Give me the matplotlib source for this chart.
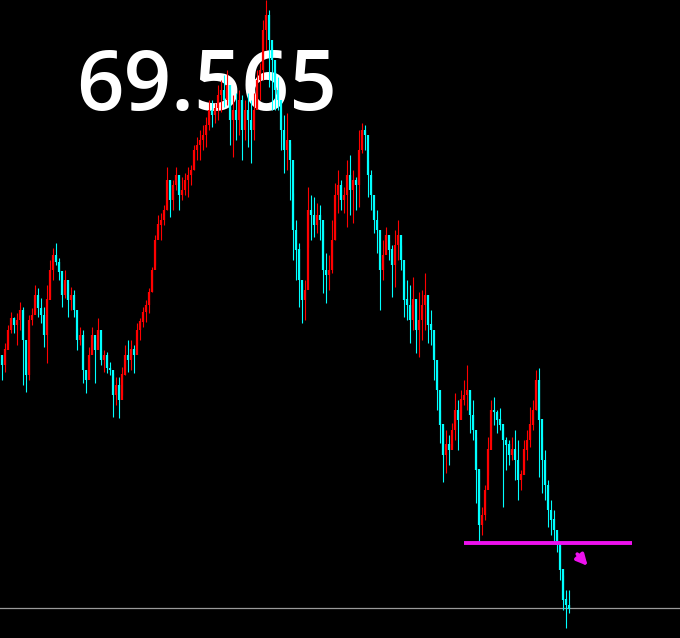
import numpy as np
import matplotlib
matplotlib.use('Agg')
import matplotlib.pyplot as plt


# bar highs / lows / closes (one entry per ~3 px column)
highs = [
    72.10, 72.22, 72.40, 72.53, 72.48, 72.52, 72.63, 72.58, 72.03, 72.50,
    72.57, 72.80, 72.77, 72.67, 72.58, 72.80, 73.05, 73.17, 73.22, 73.07,
    72.82, 72.95, 72.82, 72.78, 72.75, 72.37, 72.38, 72.35, 71.95, 72.18,
    72.38, 72.25, 72.47, 72.15, 72.15, 72.13, 72.03, 71.92, 71.88, 71.88,
    71.98, 72.20, 72.25, 72.25, 72.20, 72.42, 72.47, 72.58, 72.65, 72.77,
    72.98, 73.30, 73.50, 73.52, 73.60, 73.98, 73.85, 73.85, 73.98, 73.85,
    73.88, 73.92, 73.98, 74.00, 74.20, 74.28, 74.35, 74.40, 74.48, 74.65,
    74.65, 74.62, 74.80, 74.85, 74.90, 74.95, 74.75, 74.70, 74.72, 74.75,
    74.70, 74.65, 74.72, 74.65, 74.72, 74.95, 75.02, 75.45, 75.65, 75.55,
    75.18, 74.95, 74.88, 74.52, 74.50, 74.52, 74.22, 73.72, 73.45, 73.22,
    72.82, 72.85, 73.78, 73.70, 73.68, 73.62, 73.60, 73.35, 73.12, 73.10,
    73.45, 73.82, 73.95, 73.85, 73.78, 74.05, 74.10, 73.95, 73.88, 74.35,
    74.42, 74.40, 74.05, 73.95, 73.55, 73.55, 73.02, 73.25, 73.38, 73.25,
    73.20, 73.35, 73.45, 73.20, 72.85, 72.85, 72.80, 72.88, 72.65, 72.73,
    72.75, 72.92, 72.58, 72.55, 72.22, 71.95, 71.55, 71.38, 71.35, 71.30,
    71.42, 71.72, 71.65, 71.75, 71.85, 72.00, 71.75, 71.65, 71.28, 70.95,
    70.58, 70.80, 71.28, 71.65, 71.68, 71.55, 71.57, 71.38, 71.28, 71.25,
    71.28, 71.35, 71.25, 70.95, 71.25, 71.35, 71.58, 71.65, 71.95, 71.97,
    71.28, 71.15, 70.85, 70.65, 70.55, 70.32, 70.20, 69.90, 69.75, 69.75,
]
lows = [
    71.85, 71.93, 72.20, 72.32, 72.32, 72.20, 72.35, 71.80, 71.73, 71.85,
    72.40, 72.53, 72.48, 72.42, 72.18, 72.02, 72.68, 72.85, 73.00, 72.85,
    72.58, 72.67, 72.48, 72.55, 72.48, 72.15, 72.20, 71.82, 71.72, 71.92,
    72.15, 71.82, 72.23, 72.00, 71.93, 71.92, 71.90, 71.48, 71.60, 71.47,
    71.70, 71.90, 71.93, 71.95, 71.92, 72.20, 72.25, 72.38, 72.43, 72.52,
    72.73, 73.00, 73.30, 73.25, 73.40, 73.55, 73.48, 73.55, 73.75, 73.55,
    73.65, 73.70, 73.68, 73.80, 73.95, 74.05, 74.05, 74.15, 74.18, 74.35,
    74.38, 74.42, 74.45, 74.53, 74.58, 74.60, 74.20, 74.08, 74.25, 74.30,
    74.05, 74.25, 74.18, 74.02, 74.25, 74.58, 74.65, 74.85, 75.15, 74.78,
    74.55, 74.55, 74.55, 74.15, 73.92, 73.95, 73.65, 73.05, 72.85, 72.58,
    72.42, 72.45, 73.18, 73.25, 73.28, 73.32, 73.25, 72.72, 72.62, 72.75,
    72.92, 73.25, 73.52, 73.55, 73.52, 73.38, 73.50, 73.42, 73.55, 73.58,
    74.12, 74.15, 73.68, 73.55, 73.32, 73.12, 72.55, 72.85, 73.15, 73.05,
    72.68, 72.78, 73.05, 72.95, 72.48, 72.45, 72.22, 72.35, 72.12, 72.08,
    72.25, 72.35, 72.22, 72.20, 71.85, 71.55, 71.22, 70.83, 70.92, 71.00,
    71.18, 71.25, 71.15, 71.52, 71.60, 71.55, 71.32, 71.25, 70.62, 70.23,
    70.30, 70.45, 70.90, 71.25, 71.40, 71.32, 71.35, 70.58, 70.95, 71.00,
    71.05, 70.85, 70.65, 70.75, 70.95, 71.05, 71.18, 71.35, 71.55, 70.88,
    70.72, 70.65, 70.38, 70.30, 70.22, 70.13, 69.85, 69.55, 69.37, 69.52,
]
closes = [
    72.00, 72.15, 72.35, 72.47, 72.40, 72.45, 72.55, 72.25, 71.90, 72.45,
    72.50, 72.70, 72.57, 72.50, 72.30, 72.65, 72.95, 73.10, 73.03, 72.93,
    72.70, 72.85, 72.65, 72.70, 72.55, 72.25, 72.30, 71.95, 71.85, 72.10,
    72.30, 72.15, 72.35, 72.05, 72.10, 71.97, 71.95, 71.70, 71.80, 71.65,
    71.90, 72.10, 72.05, 72.15, 72.10, 72.35, 72.43, 72.53, 72.60, 72.73,
    72.95, 73.25, 73.40, 73.45, 73.55, 73.85, 73.65, 73.80, 73.90, 73.70,
    73.75, 73.85, 73.90, 73.95, 74.15, 74.20, 74.25, 74.30, 74.40, 74.55,
    74.50, 74.57, 74.70, 74.75, 74.65, 74.80, 74.45, 74.55, 74.45, 74.65,
    74.35, 74.55, 74.45, 74.35, 74.55, 74.85, 74.95, 75.35, 75.50, 75.25,
    75.05, 74.75, 74.65, 74.35, 74.15, 74.25, 74.05, 73.35, 73.15, 72.85,
    72.65, 72.75, 73.55, 73.50, 73.40, 73.50, 73.45, 72.95, 72.90, 72.95,
    73.25, 73.70, 73.80, 73.65, 73.70, 73.90, 73.75, 73.85, 73.80, 74.15,
    74.35, 74.30, 73.90, 73.70, 73.45, 73.35, 72.95, 73.10, 73.30, 73.15,
    73.00, 73.20, 73.30, 73.05, 72.65, 72.60, 72.45, 72.65, 72.35, 72.45,
    72.60, 72.70, 72.40, 72.35, 72.05, 71.75, 71.40, 71.10, 71.20, 71.15,
    71.35, 71.55, 71.45, 71.65, 71.70, 71.75, 71.50, 71.35, 70.95, 70.40,
    70.50, 70.75, 71.15, 71.55, 71.53, 71.45, 71.40, 71.25, 71.20, 71.10,
    71.15, 71.05, 70.85, 70.90, 71.15, 71.25, 71.40, 71.55, 71.85, 71.45,
    71.05, 70.80, 70.55, 70.45, 70.35, 70.20, 69.95, 69.65, 69.60, 69.56,
]
first_open = 72.10

last_price = 69.565
price_label = '69.565'
level_price = 70.22
level_from, level_to = 154, 210

bg = '#000000'
up_col = '#ff0000'
down_col = '#00ffff'
magenta = '#ee11ee'

n = len(closes)
idx = np.arange(n)
opens = np.array([first_open] + closes[:-1])
closes_a = np.array(closes)
cols = np.where(closes_a >= opens, up_col, down_col)

fig = plt.figure(figsize=(6.8, 6.38), dpi=100, facecolor=bg)
ax = fig.add_axes([0, 0, 1, 1])
ax.set_facecolor(bg)

# big price label sits behind the bars
ax.text(0.112, 0.828, price_label, transform=ax.transAxes, color='white',
        fontsize=60, family='Open Sans', fontweight='semibold',
        ha='left', va='baseline', zorder=1)

ax.axhline(last_price, color='#9a9a9a', lw=0.9, zorder=2)

ax.vlines(idx, lows, highs, colors=cols, lw=0.8, zorder=3)
ax.vlines(idx, np.minimum(opens, closes_a), np.maximum(opens, closes_a) + 0.005,
          colors=cols, lw=1.6, zorder=3)

ax.hlines(level_price, level_from, level_to, colors=magenta, lw=2.8, zorder=4)
ax.annotate('', xy=(n + 6.0, level_price - 0.25), xytext=(n + 1.3, level_price - 0.09),
            arrowprops=dict(arrowstyle='-|>', color=magenta, lw=2.6,
                            mutation_scale=16), zorder=4)

ax.set_xlim(-0.5, -0.5 + 680 / 3)
ax.set_ylim(69.27, 75.65)
ax.axis('off')

fig.savefig('out.png', dpi=100, facecolor=bg)
